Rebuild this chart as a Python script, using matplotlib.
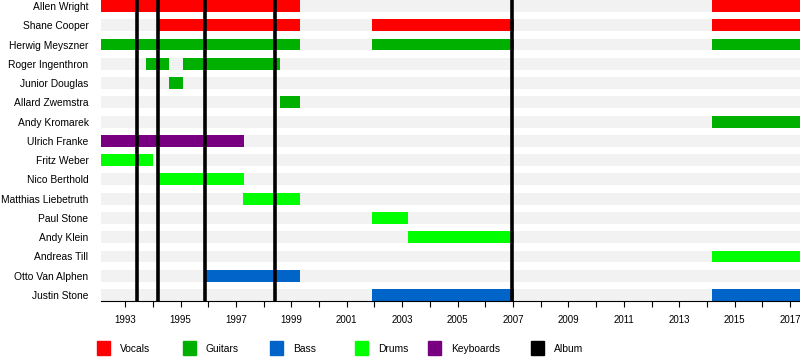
import matplotlib.pyplot as plt
from matplotlib.patches import Rectangle

plt.rcParams['font.family'] = ['Liberation Sans', 'DejaVu Sans']

# members, top to bottom
members = ["Allen Wright", "Shane Cooper", "Herwig Meyszner", "Roger Ingenthron",
           "Junior Douglas", "Allard Zwemstra", "Andy Kromarek", "Ulrich Franke",
           "Fritz Weber", "Nico Berthold", "Matthias Liebetruth", "Paul Stone",
           "Andy Klein", "Andreas Till", "Otto Van Alphen", "Justin Stone"]

start_year = 1992.13
end_year = 2017.36

# one entry per bar (decimal years)
bar_member = ["Allen Wright", "Allen Wright",
              "Shane Cooper", "Shane Cooper", "Shane Cooper",
              "Herwig Meyszner", "Herwig Meyszner", "Herwig Meyszner",
              "Roger Ingenthron", "Roger Ingenthron",
              "Junior Douglas", "Allard Zwemstra", "Andy Kromarek",
              "Ulrich Franke", "Fritz Weber", "Nico Berthold", "Matthias Liebetruth",
              "Paul Stone", "Andy Klein", "Andreas Till",
              "Otto Van Alphen", "Justin Stone", "Justin Stone"]
bar_role = ["Vocals", "Vocals",
            "Vocals", "Vocals", "Vocals",
            "Guitars", "Guitars", "Guitars",
            "Guitars", "Guitars",
            "Guitars", "Guitars", "Guitars",
            "Keyboards", "Drums", "Drums", "Drums",
            "Drums", "Drums", "Drums",
            "Bass", "Bass", "Bass"]
bar_start = [1992.13, 2014.18,
             1994.19, 2001.9, 2014.18,
             1992.13, 2001.9, 2014.18,
             1993.75, 1995.1,
             1994.57, 1998.6, 2014.18,
             1992.13, 1992.13, 1994.17, 1997.25,
             2001.9, 2003.2, 2014.18,
             1995.9, 2001.9, 2014.18]
bar_end = [1999.31, 2017.36,
           1999.31, 2007.04, 2017.36,
           1999.31, 2007.04, 2017.36,
           1994.6, 1998.6,
           1995.1, 1999.31, 2017.36,
           1997.3, 1994.0, 1997.3, 1999.31,
           2003.2, 2007.04, 2017.36,
           1999.31, 2007.04, 2017.36]

albums = [1993.43, 1994.19, 1995.88, 1998.41, 2006.96]

roles = ["Vocals", "Guitars", "Bass", "Drums", "Keyboards", "Album"]
role_colors = {"Vocals": "#ff0000", "Guitars": "#00b000", "Bass": "#0064c8",
               "Drums": "#00ff00", "Keyboards": "#780080", "Album": "#000000"}

fig = plt.figure(figsize=(8, 3.6), dpi=100)
ax = fig.add_axes([101 / 800, 1 - 301 / 360, 699 / 800, 301 / 360])

rows = {m: i for i, m in enumerate(members)}
bh = 0.62

# background stripes
for i in range(len(members)):
    ax.barh(i, end_year - start_year, left=start_year, height=bh,
            color="#f2f2f2", zorder=1)

for m, r, s, e in zip(bar_member, bar_role, bar_start, bar_end):
    ax.barh(rows[m], e - s, left=s, height=bh, color=role_colors[r], zorder=2)

for a in albums:
    ax.axvline(a, color="black", lw=2.6, zorder=3)

ax.set_xlim(start_year, end_year)
ax.set_ylim(len(members) - 1 + 0.31, -0.31)

ax.set_yticks(range(len(members)))
ax.set_yticklabels(members, fontsize=7.4)
ax.tick_params(axis="y", length=0, pad=9)

ax.set_xticks(range(1993, 2018))
ax.set_xticklabels([str(y) if y % 2 == 1 else "" for y in range(1993, 2018)],
                   fontsize=7)
ax.tick_params(axis="x", length=4, width=0.8, pad=6)

for side in ["top", "right", "left"]:
    ax.spines[side].set_visible(False)
ax.spines["bottom"].set_linewidth(0.8)

# legend
legend_x = [97, 183, 270, 355, 428, 531]
for r, x in zip(roles, legend_x):
    fig.add_artist(Rectangle((x / 800, 1 - 355 / 360), 13 / 800, 14 / 360,
                             transform=fig.transFigure, color=role_colors[r]))
    fig.text((x + 23) / 800, 1 - 349 / 360, r, fontsize=7.4, va="center")

fig.savefig("out.png", dpi=100)
